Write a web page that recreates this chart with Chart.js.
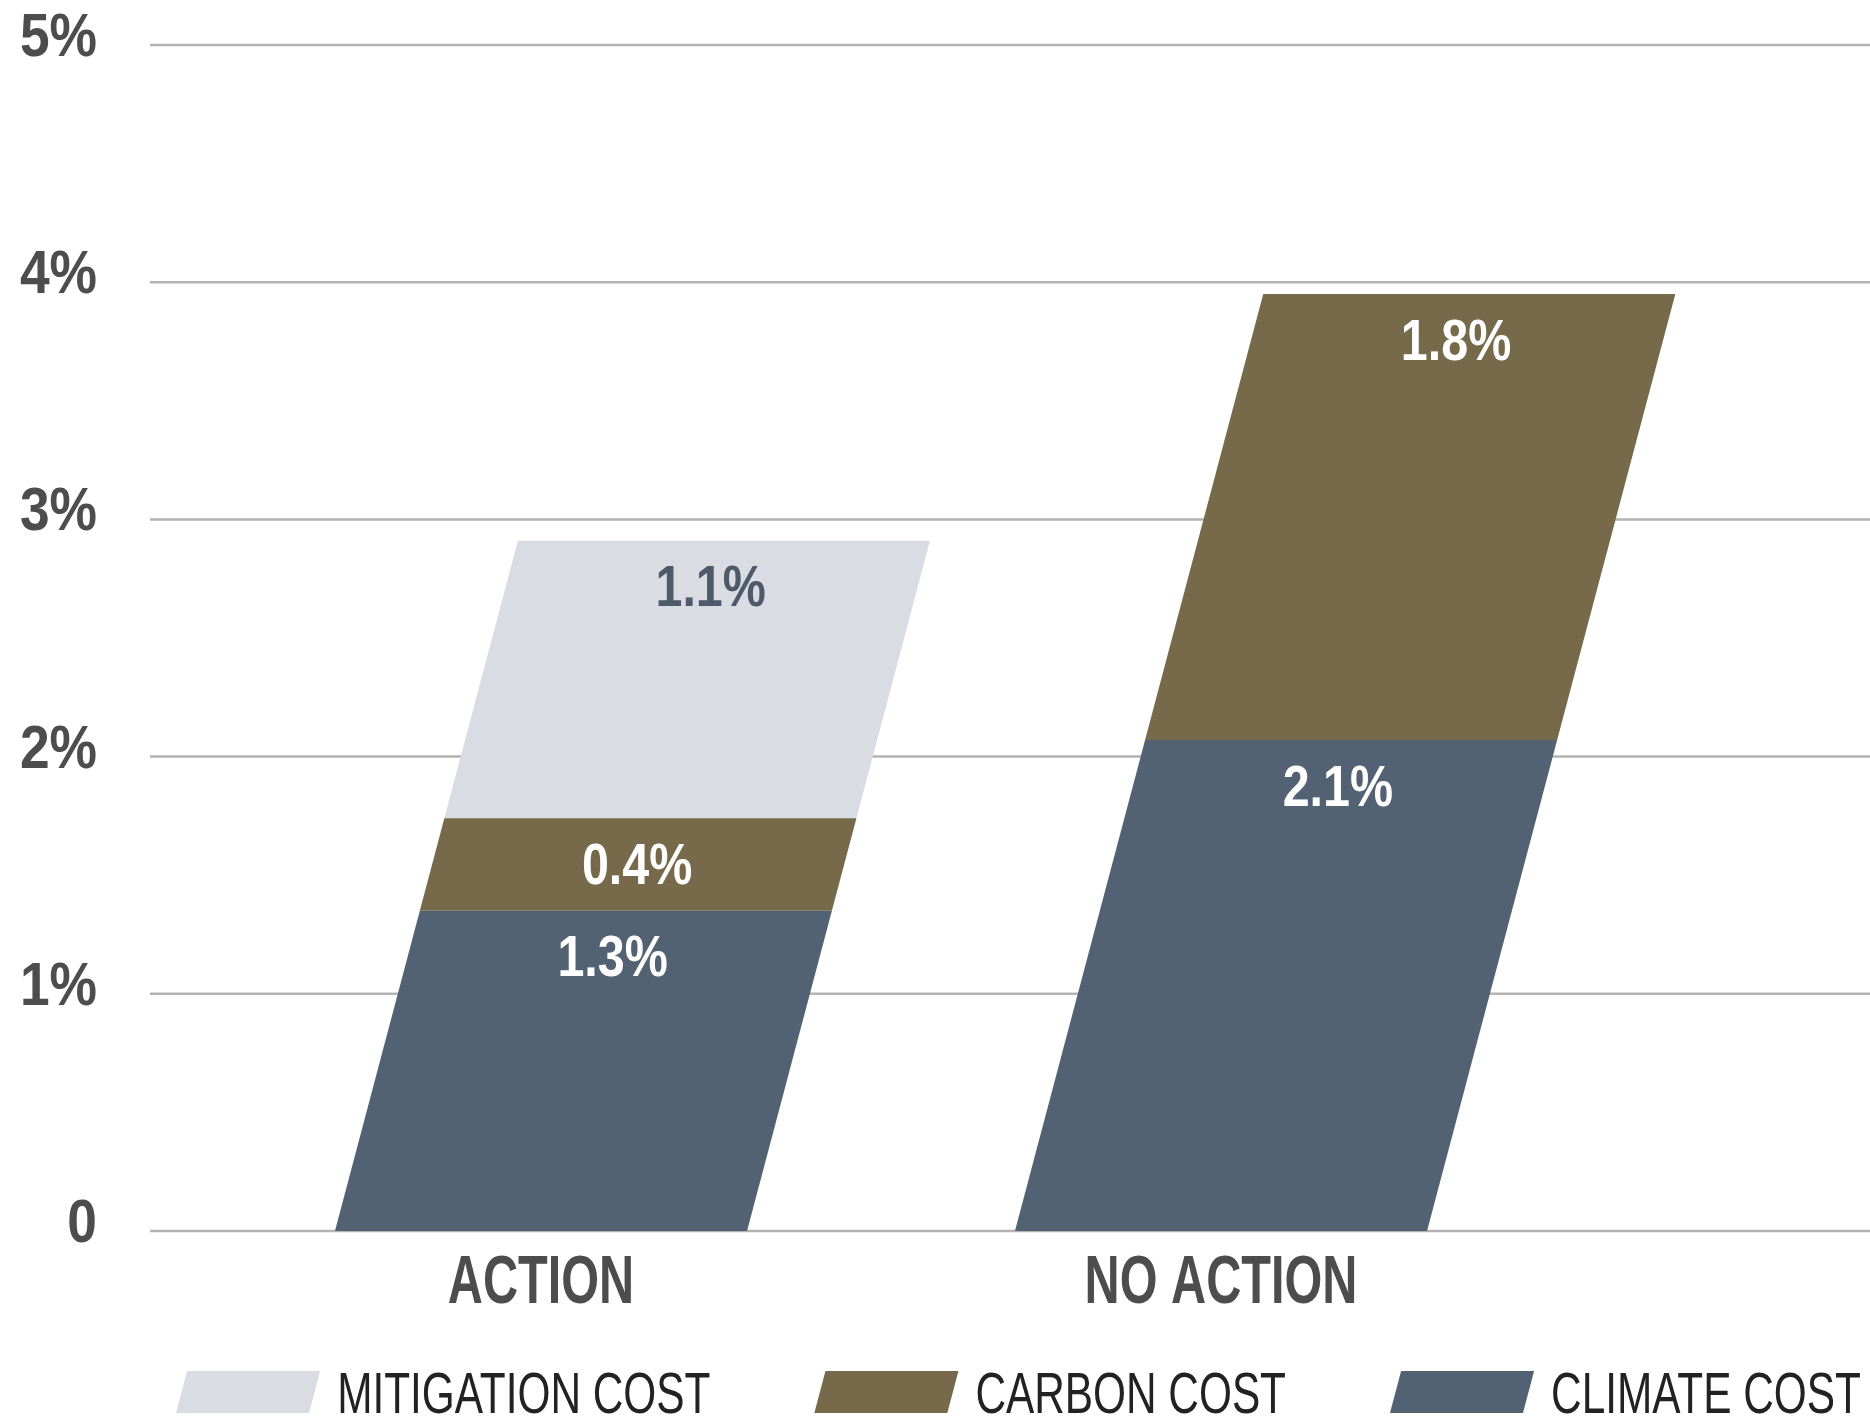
<!DOCTYPE html>
<html>
<head>
<meta charset="utf-8">
<title>Action vs no action</title>
<script src="https://cdn.jsdelivr.net/npm/chart.js@4.4.1/dist/chart.umd.min.js"></script>
<style>
  html, body { margin: 0; padding: 0; background: #fff; }
  #wrap { width: 1870px; height: 1418px; position: relative; }
</style>
</head>
<body>
<div id="wrap"><canvas id="costChart"></canvas></div>
<script>
// Values (bar heights), plus the printed segment labels
const categories = ['ACTION', 'NO ACTION'];
const seriesNames = ['CLIMATE COST', 'CARBON COST', 'MITIGATION COST'];
const climateCost = [1.35, 2.07];
const carbonCost = [0.39, 1.88];
const mitigationCost = [1.17, null];
const climateLabels = ['1.3%', '2.1%'];
const carbonLabels = ['0.4%', '1.8%'];
const mitigationLabels = ['1.1%', ''];
const yTicks = [0, 1, 2, 3, 4, 5];

const FONT = "'Liberation Sans', Arial, sans-serif";
const SLANT = 0.265; // sideways shift per pixel of bar height
const colors = ['#536273', '#776a4b', '#d9dce3'];
const labelColors = ['#ffffff', '#ffffff', '#4e5a6a'];
const segmentLabels = [climateLabels, carbonLabels, mitigationLabels];

const tickText = v => v === 0 ? '0' : v + '%';

// the original uses a condensed face, so squeeze the text sideways
function condensedText(ctx, text, x, y, squeeze, align) {
    ctx.save();
    ctx.translate(x, y);
    ctx.scale(squeeze, 1);
    ctx.textAlign = align;
    ctx.fillText(text, 0, 0);
    ctx.restore();
}

// Grid lines run past the plot area on both sides
const gridPlugin = {
    id: 'longGrid',
    beforeDatasetsDraw(chart) {
        const ctx = chart.ctx;
        const y = chart.scales.y;
        ctx.save();
        ctx.strokeStyle = '#b3b3b3';
        ctx.lineWidth = 2.5;
        yTicks.forEach(v => {
            const py = y.getPixelForValue(v);
            ctx.beginPath();
            ctx.moveTo(150, py);
            ctx.lineTo(chart.width, py);
            ctx.stroke();
        });
        ctx.restore();
    }
};

// Lean the bars to the right (shear around the zero line)
const slantPlugin = {
    id: 'slant',
    beforeDatasetsDraw(chart) {
        const base = chart.scales.y.getPixelForValue(0);
        chart.ctx.save();
        chart.ctx.transform(1, 0, -SLANT, 1, SLANT * base, 0);
    },
    afterDatasetsDraw(chart) {
        chart.ctx.restore();
    }
};

// Value text inside each segment, following the lean
const segmentLabelPlugin = {
    id: 'segmentLabels',
    afterDatasetsDraw(chart) {
        const ctx = chart.ctx;
        const base = chart.scales.y.getPixelForValue(0);
        ctx.save();
        ctx.font = 'bold 57px ' + FONT;
        ctx.textBaseline = 'middle';
        chart.data.datasets.forEach((ds, i) => {
            chart.getDatasetMeta(i).data.forEach((bar, j) => {
                const text = segmentLabels[i][j];
                if (!text) return;
                const ty = bar.y + 50;
                const tx = bar.x + SLANT * (base - ty);
                ctx.fillStyle = labelColors[i];
                condensedText(ctx, text, tx, ty, 0.85, 'center');
            });
        });
        ctx.restore();
    }
};

// Tick and category text, placed from the scales
const axisTextPlugin = {
    id: 'axisText',
    afterDraw(chart) {
        const ctx = chart.ctx;
        const x = chart.scales.x, y = chart.scales.y;
        ctx.save();
        ctx.fillStyle = '#4d4d4d';
        ctx.textBaseline = 'middle';
        ctx.font = 'bold 62px ' + FONT;
        yTicks.forEach(v => {
            condensedText(ctx, tickText(v), 97, y.getPixelForValue(v) - 6, 0.86, 'right');
        });
        ctx.font = 'bold 68px ' + FONT;
        categories.forEach((c, i) => {
            condensedText(ctx, c, x.getPixelForValue(i), y.bottom + 53, 0.715, 'center');
        });
        ctx.restore();
    }
};

// Legend with slanted swatches, top series first
const legendPlugin = {
    id: 'slantLegend',
    afterDraw(chart) {
        const ctx = chart.ctx;
        const top = 1371, h = 42, w = 133;
        let x = 176;
        ctx.save();
        ctx.font = '58px ' + FONT;
        ctx.textBaseline = 'alphabetic';
        chart.data.datasets.slice().reverse().forEach(ds => {
            ctx.fillStyle = ds.backgroundColor;
            ctx.beginPath();
            ctx.moveTo(x, top + h);
            ctx.lineTo(x + w, top + h);
            ctx.lineTo(x + w + SLANT * h, top);
            ctx.lineTo(x + SLANT * h, top);
            ctx.closePath();
            ctx.fill();
            const tx = x + w + SLANT * h + 17;
            ctx.fillStyle = '#222222';
            condensedText(ctx, ds.label, tx, top + h, 0.73, 'left');
            x = tx + ctx.measureText(ds.label).width * 0.73 + 104;
        });
        ctx.restore();
    }
};

new Chart(document.getElementById('costChart'), {
    type: 'bar',
    data: {
        labels: categories,
        datasets: [
            { label: seriesNames[0], data: climateCost, backgroundColor: colors[0] },
            { label: seriesNames[1], data: carbonCost, backgroundColor: colors[1] },
            { label: seriesNames[2], data: mitigationCost, backgroundColor: colors[2] }
        ]
    },
    options: {
        responsive: true,
        maintainAspectRatio: false,
        animation: false,
        layout: { padding: { top: 45, right: 309, bottom: 107, left: 0 } },
        plugins: {
            legend: { display: false },
            tooltip: { enabled: false }
        },
        datasets: {
            bar: { categoryPercentage: 1, barPercentage: 0.606, borderWidth: 0, clip: false }
        },
        scales: {
            x: {
                stacked: true,
                grid: { display: false },
                border: { display: false },
                ticks: { display: false },
                afterFit(s) { s.height = 80; }
            },
            y: {
                stacked: true,
                min: 0,
                max: 5,
                grid: { display: false, drawTicks: false },
                border: { display: false },
                afterBuildTicks(s) { s.ticks = yTicks.map(v => ({ value: v })); },
                ticks: { display: false },
                afterFit(s) { s.width = 201; }
            }
        }
    },
    plugins: [gridPlugin, slantPlugin, segmentLabelPlugin, axisTextPlugin, legendPlugin]
});
</script>
</body>
</html>
